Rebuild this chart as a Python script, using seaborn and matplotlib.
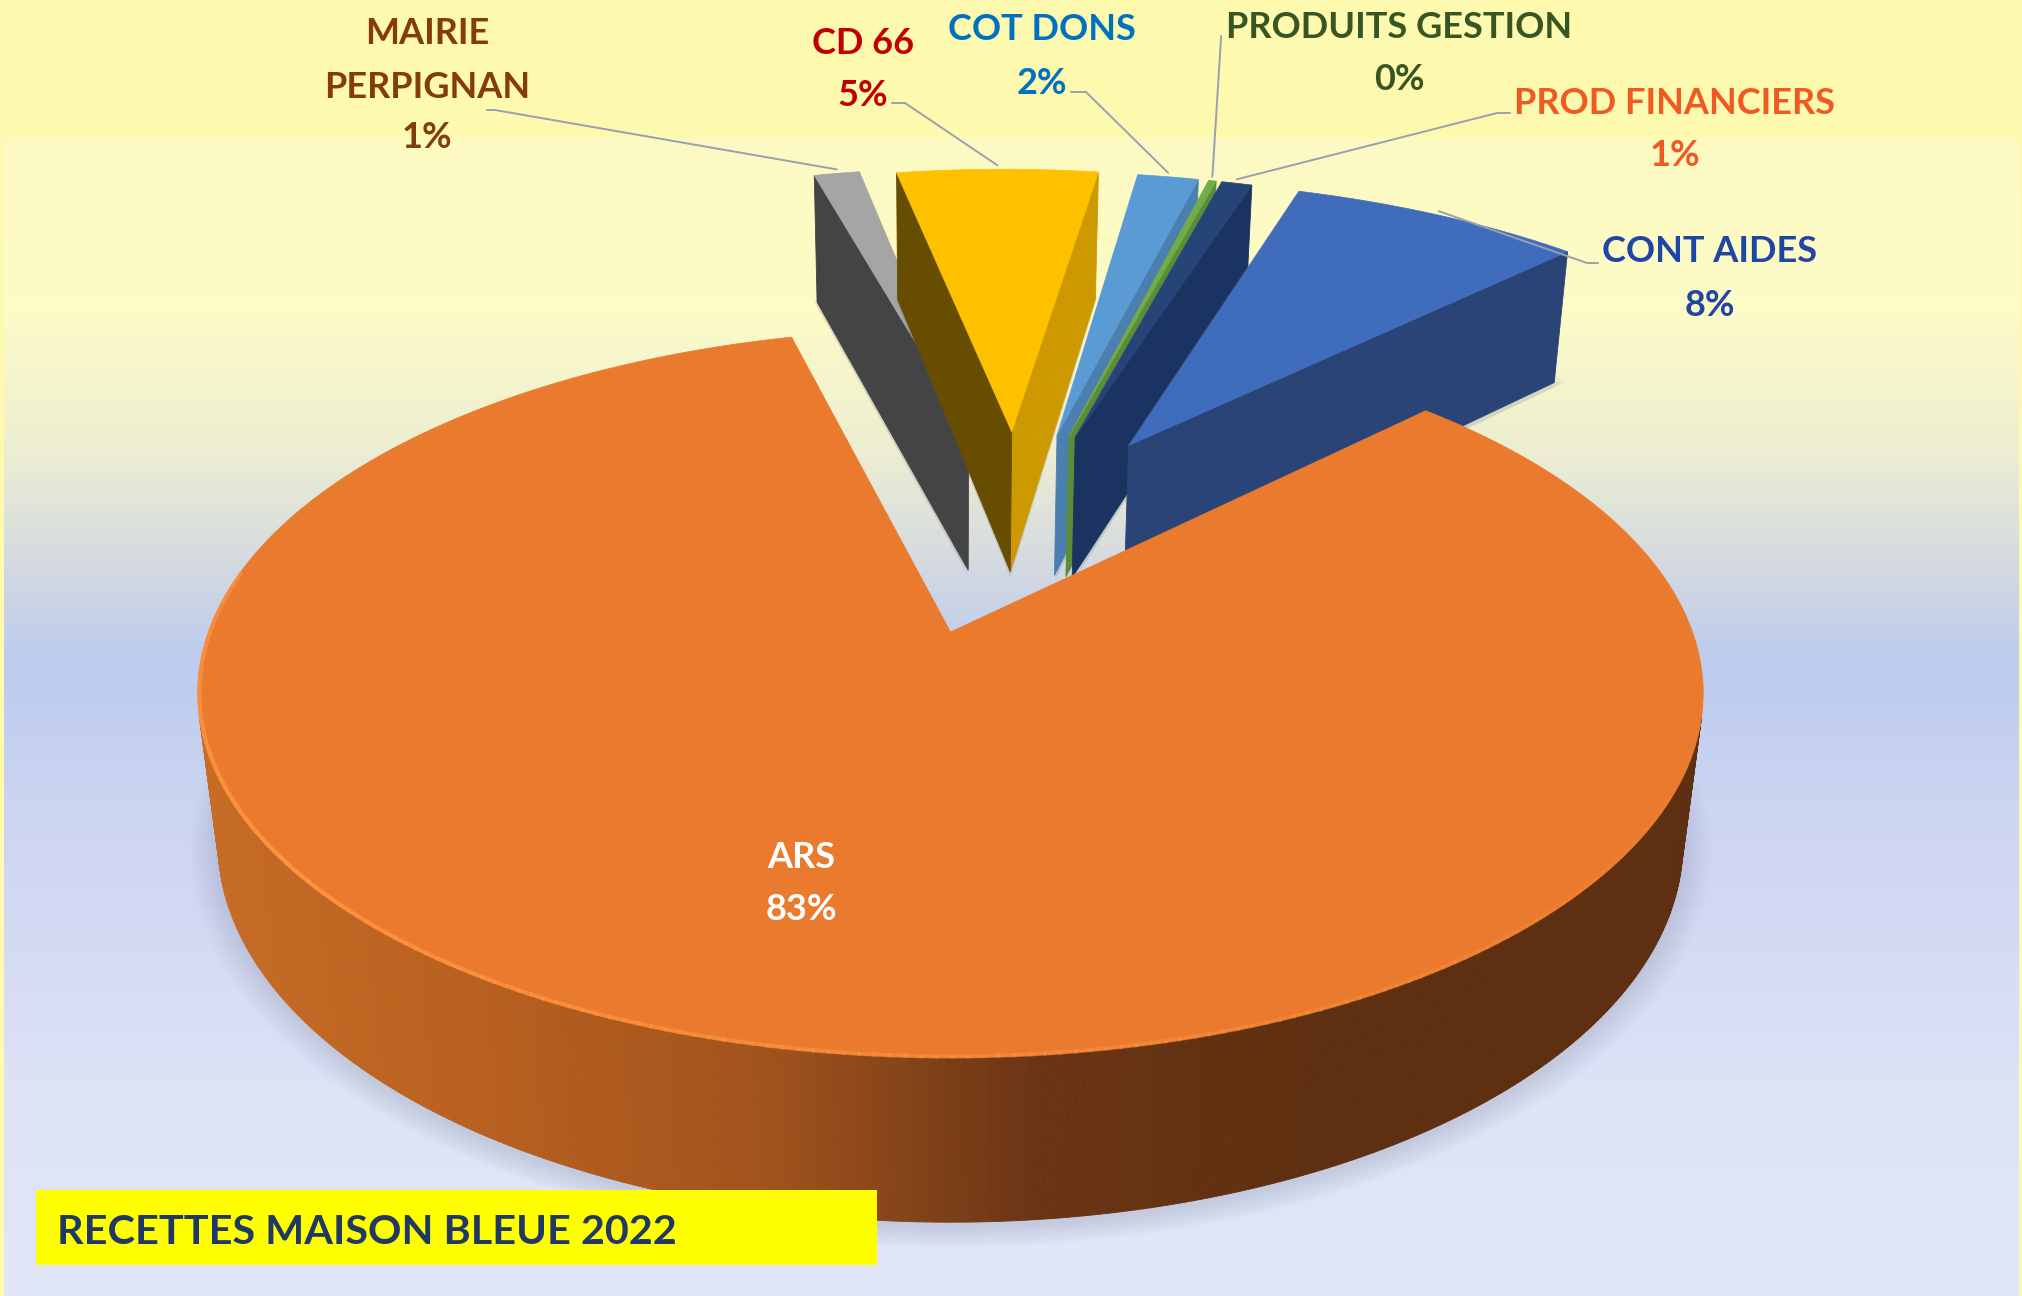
import numpy as np
import matplotlib
matplotlib.use('Agg')
import matplotlib.pyplot as plt
import seaborn as sns

# recettes maison bleue 2022, ccw from the right edge of the ARS gap
categories = ['CONT AIDES', 'PROD FINANCIERS', 'PRODUITS GESTION', 'COT DONS', 'CD 66', 'MAIRIE PERPIGNAN', 'ARS']
values = [7.6, 0.8, 0.2, 1.6, 5.3, 1.2, 83.3]
pct_labels = ['8%', '1%', '0%', '2%', '5%', '1%', '83%']

top_colors = ['#3F6DBB', '#264478', '#70AD47', '#5B9BD5', '#FFC000', '#A5A5A5', '#EA7B2E']
start_wall = ['#2A4478', '#1A3360', '#5A8C3A', '#4A7FB0', '#CC9A00', '#7C7C7C', '#5E2F10']
end_wall = ['#24396A', '#1A3360', '#5A8C3A', '#4A7FB0', '#664D00', '#444444', '#5E2F10']
text_colors = ['#1F45A5', '#F05A22', '#375623', '#0070C0', '#C00000', '#843C0C', '#FFFFFF']

# background stops, y in pixels
bg_y = [138, 300, 450, 560, 660, 800, 950, 1100, 1296]
bg_col = ['#FDF9C3', '#FEFCC6', '#EDEED2', '#D5DAE0', '#BDCBEE', '#CBD4F1', '#D6DBF4', '#DEE3F6', '#E1E6F8']

W, H = 2022, 1296
CX, CY = 950.5, 632
A, B, K, M, DEPTH = 742, 354, 0.168, 0.027, 153
START = 44.3
EXPLODE = 0.63
FAN_MID, FAN = 75, 0.5
FAN_SHIFT = 0.012


def project(u, v, z=0.0):
    # circle coords -> pixels, simple camera looking down on the pie
    w = 1 + K * np.asarray(v) + M * z
    return CX + A * np.asarray(u) / w, CY - (B * np.asarray(v) - DEPTH * z) / w


def hexrgb(c):
    return np.array(matplotlib.colors.to_rgb(c))


def shoelace(x, y):
    return np.sum(x * np.roll(y, -1) - np.roll(x, -1) * y)


def wall(ax, ua, va, ub, vb, color, zo):
    x0, y0 = project(np.array([ua, ub]), np.array([va, vb]), 0)
    x1, y1 = project(np.array([ub, ua]), np.array([vb, va]), 1)
    x, y = np.r_[x0, x1], np.r_[y0, y1]
    if shoelace(x, y) > 0:
        ax.fill(x, y, color=color, lw=0.6, zorder=zo)


sns.set_theme(style='white')
plt.rcParams['font.family'] = ['Lato', 'DejaVu Sans']

fig = plt.figure(figsize=(W / 100, H / 100), dpi=100, facecolor='#FDF9AE')
ax = fig.add_axes([0, 0, 1, 1])
ax.set_xlim(0, W)
ax.set_ylim(H, 0)
ax.axis('off')

# gradient panel
rows = np.arange(138, H)
rgb = np.array([hexrgb(c) for c in bg_col])
grad = np.stack([np.interp(rows, bg_y, rgb[:, i]) for i in range(3)], axis=1)[:, None, :]
ax.imshow(grad, extent=(4, 2019, H, 138), aspect='auto', zorder=0)
ax.set_xlim(0, W)
ax.set_ylim(H, 0)

angles = START + np.r_[0, np.cumsum(values)] * 3.6
side_shade = sns.blend_palette(['#C86C26', '#B8601F', '#A2541D', '#6B3515', '#5E2F10', '#5E2F10'], n_colors=256)

anchors = {}
zo = 2
for i in [5, 4, 3, 2, 1, 0, 6]:
    t0, t1 = angles[i], angles[i + 1]
    mid = (t0 + t1) / 2
    if categories[i] == 'ARS':
        ou, ov, r = 0.0, 0.0, 1.0
    else:
        d = np.radians(FAN_MID + FAN * (mid - FAN_MID))
        ou, ov, r = EXPLODE * np.cos(d) + FAN_SHIFT, EXPLODE * np.sin(d), 1.05
    th = np.radians(np.linspace(t0, t1, max(int((t1 - t0) * 2), 8)))
    au, av = ou + r * np.cos(th), ov + r * np.sin(th)
    pu, pv = np.r_[ou, au], np.r_[ov, av]

    # soft shadow below the slice
    for s in range(8):
        sx, sy = project(ou + (pu - ou) * (1 + 0.005 * s), ov + (pv - ov) * (1 + 0.005 * s) - 0.006, 1)
        ax.fill(sx, sy + 3, color='#59637F', alpha=0.025, lw=0, zorder=zo)
    zo += 1

    # walls
    wall(ax, ou, ov, au[0], av[0], start_wall[i], zo)
    wall(ax, au[-1], av[-1], ou, ov, end_wall[i], zo)
    for j in range(len(th) - 1):
        if categories[i] == 'ARS':
            xm = project(au[j], av[j])[0]
            f = np.clip((xm - (CX - 760)) / 1400, 0, 1)
            c = side_shade[int(f * 255)]
        else:
            c = start_wall[i]
        wall(ax, au[j], av[j], au[j + 1], av[j + 1], c, zo)
    zo += 1

    # top face
    tx, ty = project(pu, pv)
    ax.fill(tx, ty, color=top_colors[i], lw=0.5, zorder=zo)
    zo += 1

    ax_, ay_ = project(ou + r * np.cos(np.radians(mid)), ov + r * np.sin(np.radians(mid)))
    anchors[categories[i]] = (float(ax_), float(ay_))

    if categories[i] == 'ARS':
        # lighter rim on the front edge
        for a0 in np.arange(170, 345, 1.0):
            fade = np.clip(1 - abs(a0 - 215) / 130, 0, 1)
            aa = np.radians([a0, a0 + 1.2])
            rx, ry = project(np.cos(aa) * 0.998, np.sin(aa) * 0.998)
            ax.plot(rx, ry, color='#FF9440', lw=3, alpha=0.9 * fade, solid_capstyle='butt', zorder=zo)
        zo += 1

# labels: centre x, y of name lines, then pct line
label_x = [1710, 1675, 1399, 1042, 863, 427, 801]
label_y = [[252, 305], [103, 156], [28, 80], [30, 83], [43, 95], [34, 87, 138], [857, 909]]
label_lines = [['CONT AIDES'], ['PROD FINANCIERS'], ['PRODUITS GESTION'], ['COT DONS'], ['CD 66'], ['MAIRIE', 'PERPIGNAN'], ['ARS']]
for i in range(len(categories)):
    lines = label_lines[i] + [pct_labels[i]]
    for s, yy in zip(lines, label_y[i]):
        ax.text(label_x[i], yy, s, color=text_colors[i], fontsize=26, fontweight='bold',
                ha='center', va='center', zorder=zo + 2)

# leader lines: text end, elbow
leader_start = {'CONT AIDES': (1598, 263, 1587, 263), 'PROD FINANCIERS': (1510, 113, 1497, 113),
                'PRODUITS GESTION': (1221, 36, 1221, 38), 'COT DONS': (1071, 92, 1086, 92),
                'CD 66': (892, 103, 905, 103), 'MAIRIE PERPIGNAN': (487, 110, 495, 110)}
for name, (x0, y0, x1, y1) in leader_start.items():
    ex, ey = anchors[name]
    ax.plot([x0, x1, ex], [y0, y1, ey - 4], color='#9AA0B0', lw=1.4, zorder=zo + 1)

# title box
ax.fill_between([36, 877], 1190, 1265, color='#FFFF00', lw=0, zorder=zo + 1)
ax.text(57, 1232, 'RECETTES MAISON BLEUE 2022', color='#1F3864', fontsize=29.8, fontweight='bold',
        ha='left', va='center', zorder=zo + 2)

fig.savefig('out.png', dpi=100, facecolor=fig.get_facecolor())
